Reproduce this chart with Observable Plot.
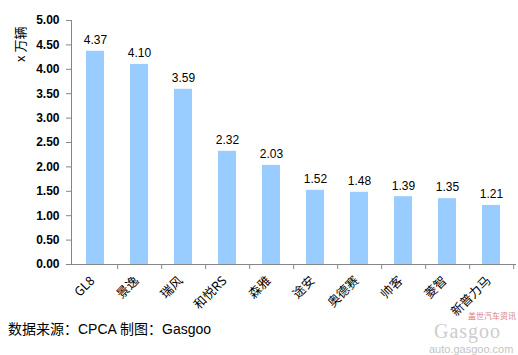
<!DOCTYPE html>
<html><head><meta charset="utf-8">
<script src="https://cdn.jsdelivr.net/npm/d3@7"></script>
<script src="https://cdn.jsdelivr.net/npm/@observablehq/plot@0.6"></script>
<style>
body{margin:0;background:#fff;}
#wrap{position:relative;width:518px;height:355px;overflow:hidden;font-family:"Liberation Sans",Arial,sans-serif;}
#foot{position:absolute;left:8px;top:321px;font-size:14px;line-height:16px;color:#000;font-family:"Liberation Sans","Noto Sans CJK SC",sans-serif;}
#wm0{position:absolute;left:468px;top:311px;font-size:8px;line-height:9px;color:#e07a7a;font-family:"Noto Sans CJK SC",sans-serif;}
#wm1{position:absolute;left:434px;top:322px;font-size:20px;line-height:18px;color:#cdcdcd;font-family:"Liberation Serif",serif;letter-spacing:1px;}
#wm2{position:absolute;left:429px;top:344px;font-size:11px;line-height:11px;color:#c4c4c4;}
</style></head>
<body><div id="wrap"></div>
<script>
const categories = ["GL8","景逸","瑞风","和悦RS","森雅","途安","奥德赛","帅客","菱智","新普力马"];
const values = [4.37,4.10,3.59,2.32,2.03,1.52,1.48,1.39,1.35,1.21];
const yTicks = [0,0.5,1,1.5,2,2.5,3,3.5,4,4.5,5];
const yLabel = "x 万辆";
const footer = "数据来源：CPCA 制图：Gasgoo";

const data = categories.map((c,i)=>({name:c, value:values[i]}));
const W = 518, H = 355, mL = 71, mR = 3, mT = 20, mB = 91;
const step = (W - mL - mR) / categories.length;

const chart = Plot.plot({
  width: W, height: H,
  marginLeft: mL, marginRight: mR, marginTop: mT, marginBottom: mB,
  style: {fontFamily: '"Liberation Sans", Arial, sans-serif', background: "#fff", color: "#000"},
  x: {domain: categories, paddingInner: 0.6, paddingOuter: 0.3, align: 0.5},
  y: {domain: [0,5]},
  marks: [
    Plot.barY(data, {x: "name", y: "value", fill: "#99ccff"}),
    Plot.text(data, {x: "name", y: "value", text: d => d.value.toFixed(2), dy: -11, fontSize: 12, fill: "#000"}),
    Plot.axisY({ticks: yTicks, tickFormat: d => d.toFixed(2), tickSize: 5, tickPadding: 7, label: null, fontWeight: "bold", fontSize: 12, stroke: "#868686"}),
    Plot.frame({anchor: "left", stroke: "#868686"}),
    Plot.axisX({tickSize: 5, tickFormat: () => "", dx: step/2, label: null, stroke: "#868686"}),
    Plot.frame({anchor: "bottom", stroke: "#868686"}),
    Plot.text(categories, {x: d => d, frameAnchor: "bottom", rotate: -45, textAnchor: "end", dx: 0, dy: 17, fontSize: 12.5, fontFamily: '"Noto Sans CJK SC", sans-serif', fill: "#000"}),
    Plot.text([yLabel], {frameAnchor: "top-left", dx: -56, dy: 6, rotate: -90, textAnchor: "end", fontSize: 13, fontFamily: '"Noto Sans CJK SC", sans-serif', fill: "#000"})
  ]
});
const wrap = document.getElementById("wrap");
wrap.appendChild(chart);
const f = document.createElement("div"); f.id = "foot"; f.textContent = footer; wrap.appendChild(f);
const w0 = document.createElement("div"); w0.id = "wm0"; w0.textContent = "盖世汽车资讯"; wrap.appendChild(w0);
const w1 = document.createElement("div"); w1.id = "wm1"; w1.textContent = "Gasgoo"; wrap.appendChild(w1);
const w2 = document.createElement("div"); w2.id = "wm2"; w2.textContent = "auto.gasgoo.com"; wrap.appendChild(w2);
</script></body></html>
